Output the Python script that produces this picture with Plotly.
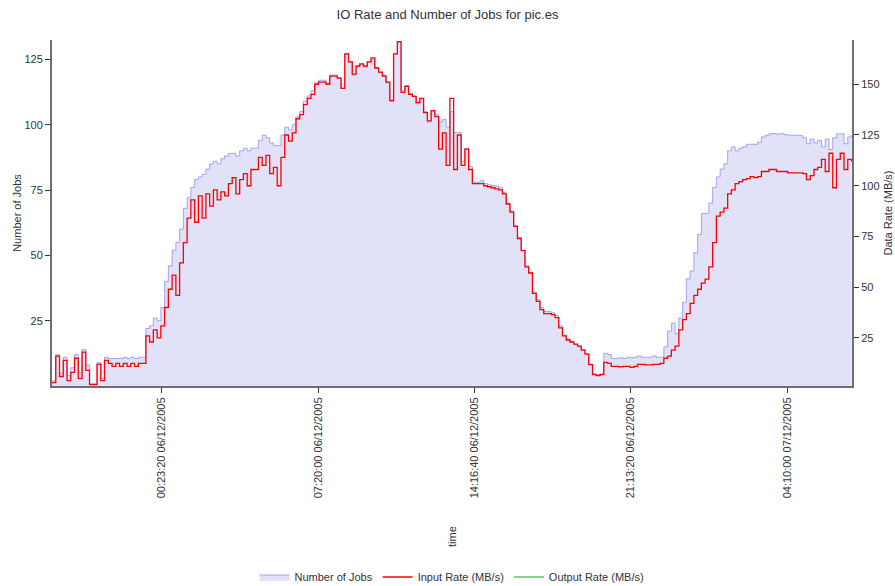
import pandas as pd
import plotly.graph_objects as go

# Sample times: one reading every 10 minutes
start_time = "2005-12-05 19:31:05"
n_points = 214
times = pd.date_range(start=start_time, periods=n_points, freq="10min")

# Number of running jobs (left axis)
jobs = [
    2, 12, 5, 11, 4, 7,
    12, 5, 14, 8, 1, 1,
    9, 3, 11, 10.5, 10.5, 10.5,
    10.5, 11, 10.5, 11, 10.5, 11,
    11, 22, 23, 26, 25, 30,
    40, 46, 52, 55, 60, 68,
    72, 76, 79, 80, 81, 83,
    85, 86, 85, 87, 88, 89,
    89, 88, 90, 91, 90, 91,
    91, 94, 96, 95, 93, 92,
    92, 96, 99, 98, 100, 103,
    105, 109, 111, 113, 116, 117,
    117, 116, 119, 119, 118, 114,
    127, 124, 119, 122, 123, 122,
    124, 125, 122, 120, 119, 116,
    109, 127, 131.5, 113, 115, 112,
    111, 108, 110, 105, 101, 105,
    104, 101, 102, 99, 105, 97,
    97, 86, 91, 84, 78, 78,
    78.5, 77.5, 77, 76.8, 76.5, 76,
    74, 70, 67, 61.5, 57, 52,
    46, 43.5, 36, 33, 30, 28.5,
    28.5, 28, 27, 23, 19.5, 18,
    17, 16, 15, 14, 12.5, 8,
    4.5, 4.2, 4.5, 12.5, 12, 10.5,
    10.5, 10.8, 10.5, 11, 10.8, 11,
    11.5, 11, 11, 11, 11.5, 11,
    11, 15, 21, 24, 20, 26,
    32, 41, 44, 51, 58, 66,
    66, 70, 76, 80, 83, 85,
    90, 91.5, 90, 91, 91.5, 92.5,
    92.5, 92.5, 93.3, 95.3, 96, 96.5,
    96.6, 96.4, 96.6, 96.2, 96, 96,
    96, 95.8, 95, 92.7, 94.5, 93,
    94, 91.5, 94.5, 90.5, 95, 96.5,
    96.5, 92.7, 95.3, 96,
]

# Input data rate in MB/s (right axis)
input_rate = [
    3, 16, 6, 14, 4, 8,
    15, 5, 18, 9, 2, 2,
    12, 4, 14, 12.5, 11, 12.5,
    11, 12.5, 11, 12.5, 11, 12.5,
    12.5, 26, 23, 29, 25, 31,
    40, 49, 56, 46, 62, 72,
    84, 93, 82, 95, 84, 96,
    90, 98, 93, 97, 95, 101,
    104, 96, 103, 106, 100, 108,
    108, 114, 110, 115, 106, 109,
    100, 114, 125, 122, 126, 133,
    135, 140, 143, 145, 150, 151,
    151, 150, 154, 154, 153, 148,
    165, 161, 155, 159, 160, 159,
    161, 163, 158, 156, 154, 151,
    142, 165, 171, 146, 149, 145,
    144, 141, 143, 136, 132, 137,
    134, 118, 126, 110, 143, 108,
    125, 110, 118, 108, 101, 101,
    101, 100, 99.5, 99, 98.5, 98,
    96, 91, 87, 80, 74, 68,
    60, 57, 47, 43, 39, 37,
    37, 36.5, 35, 30, 26, 24,
    23, 22, 21, 19, 17, 12,
    7, 6.5, 7, 13, 12.5, 11,
    11, 10.8, 11, 11, 10.5, 11,
    12, 12, 11.7, 11.7, 12, 12,
    12.5, 15, 16, 19, 21, 29,
    34, 37, 42, 46, 49, 52,
    54, 60, 72, 85, 87, 89,
    96, 98, 101, 102, 103, 103.5,
    104.5, 104, 104.5, 107, 107, 108,
    108, 107, 107, 107, 106.3, 106.3,
    106.3, 106.3, 106, 103, 105, 108,
    109, 113, 107, 116, 99, 113,
    116, 108, 113, 112,
]

# Output data rate in MB/s (right axis)
output_rate = [0] * n_points

# Time axis ticks
tick_times = [
    "2005-12-06 00:23:20",
    "2005-12-06 07:20:00",
    "2005-12-06 14:16:40",
    "2005-12-06 21:13:20",
    "2005-12-07 04:10:00",
]
tick_labels = [
    "00:23:20 06/12/2005",
    "07:20:00 06/12/2005",
    "14:16:40 06/12/2005",
    "21:13:20 06/12/2005",
    "04:10:00 07/12/2005",
]
x_range = ["2005-12-05 19:31:05", "2005-12-07 07:02:22"]

FONT = "Liberation Sans, Arial, sans-serif"
AXIS_COLOR = "#6e6e6e"

fig = go.Figure()

fig.add_trace(go.Scatter(
    x=times, y=jobs, name="Number of Jobs",
    mode="lines", line=dict(shape="hv", color="rgba(140,140,235,0.75)", width=1),
    fill="tozeroy", fillcolor="#e1e1f8", yaxis="y",
))
fig.add_trace(go.Scatter(
    x=times, y=input_rate, name="Input Rate (MB/s)",
    mode="lines", line=dict(shape="hv", color="#ff0000", width=1.3),
    yaxis="y2",
))
fig.add_trace(go.Scatter(
    x=times, y=output_rate, name="Output Rate (MB/s)",
    mode="lines", line=dict(color="#1a9a1a", width=1),
    yaxis="y2",
))

fig.update_layout(
    width=895, height=586,
    margin=dict(l=52, r=43, t=40, b=200, autoexpand=False),
    paper_bgcolor="white", plot_bgcolor="white",
    font=dict(family=FONT, size=11, color="#333333"),
    title=dict(text="IO Rate and Number of Jobs for pic.es", x=0.5, xanchor="center",
               y=0.975, yanchor="middle", font=dict(size=13, color="#333333")),
    showlegend=True,
    legend=dict(orientation="h", x=0.5, xanchor="center", y=(386 - 577) / 346,
                yanchor="middle",
                font=dict(size=11, color="#333333"), bgcolor="rgba(0,0,0,0)",
                itemwidth=30, tracegroupgap=0),
    xaxis=dict(
        type="date", range=x_range, tickmode="array", automargin=False,
        tickvals=tick_times, ticktext=tick_labels, tickangle=-90,
        showgrid=False, zeroline=False, showline=True, linecolor=AXIS_COLOR, linewidth=2,
        ticks="outside", ticklen=5, tickcolor="#333333", tickfont=dict(size=11),
    ),
    yaxis=dict(
        range=[0, 132.4], tickmode="array", tickvals=[25, 50, 75, 100, 125],
        automargin=False,
        showgrid=False, zeroline=False, showline=True, linecolor=AXIS_COLOR, linewidth=2,
        ticks="outside", ticklen=5, tickcolor="#333333",
        title=dict(text="Number of Jobs", font=dict(size=11), standoff=1),
    ),
    yaxis2=dict(
        range=[1.33, 171.8], overlaying="y", side="right", automargin=False,
        tickmode="array", tickvals=[25, 50, 75, 100, 125, 150],
        showgrid=False, zeroline=False, showline=True, linecolor=AXIS_COLOR, linewidth=2,
        ticks="outside", ticklen=5, tickcolor="#333333",
        title=dict(text="Data Rate (MB/s)", font=dict(size=11), standoff=6),
    ),
    annotations=[dict(
        text="time", xref="paper", yref="paper", x=(452 - 52) / 800, y=(386 - 537) / 346,
        textangle=-90, showarrow=False, xanchor="center", yanchor="middle",
        font=dict(size=11, color="#333333"),
    )],
)

fig.write_html("out.html")
